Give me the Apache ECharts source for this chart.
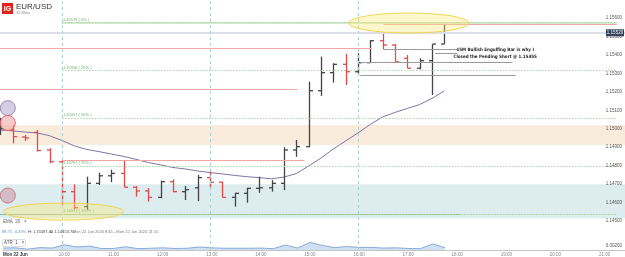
<!DOCTYPE html>
<html>
<head>
<meta charset="utf-8">
<script src="https://cdn.jsdelivr.net/npm/echarts@6/dist/echarts.min.js"></script>
<style>
  html, body { margin: 0; padding: 0; background: #fff; }
  #main { width: 625px; height: 257px; }
</style>
</head>
<body>
<div id="main"></div>
<script>
// EUR/USD 15 min bars, Mon 22 Jun
var barTimes = ['08:45','09:00','09:15','09:30','09:45','10:00','10:15','10:30','10:45','11:00',
  '11:15','11:30','11:45','12:00','12:15','12:30','12:45','13:00','13:15','13:30',
  '13:45','14:00','14:15','14:30','14:45','15:00','15:15','15:30','15:45','16:00',
  '16:15','16:30','16:45','17:00','17:15','17:30','17:45'];
var opens  = [1.14975,1.14993,1.14955,1.14980,1.14885,1.14821,1.14659,1.14578,1.14704,1.14745,
  1.14758,1.14683,1.14663,1.14628,1.14713,1.14659,1.14680,1.14735,1.14710,1.14628,
  1.14650,1.14677,1.14680,1.14704,1.14885,1.14903,1.15206,1.15304,1.15349,1.15309,
  1.15358,1.15477,1.15454,1.15382,1.15328,1.15369,1.15459];
var highs  = [1.15060,1.15020,1.14966,1.14993,1.14894,1.14830,1.14699,1.14740,1.14762,1.14778,
  1.14825,1.14690,1.14679,1.14719,1.14726,1.14690,1.14749,1.14776,1.14713,1.14653,
  1.14680,1.14740,1.14722,1.14900,1.14939,1.15255,1.15391,1.15355,1.15405,1.15409,
  1.15481,1.15521,1.15459,1.15400,1.15382,1.15459,1.15576];
var lows   = [1.14966,1.14921,1.14934,1.14876,1.14813,1.14587,1.14565,1.14560,1.14695,1.14710,
  1.14683,1.14632,1.14605,1.14623,1.14656,1.14614,1.14608,1.14677,1.14628,1.14578,
  1.14599,1.14653,1.14659,1.14668,1.14848,1.14900,1.15178,1.15250,1.15237,1.15291,
  1.15358,1.15431,1.15363,1.15328,1.15322,1.15183,1.15459];
var closes = [1.15000,1.14957,1.14950,1.14882,1.14821,1.14659,1.14572,1.14704,1.14745,1.14758,
  1.14683,1.14663,1.14628,1.14713,1.14659,1.14670,1.14735,1.14710,1.14628,1.14650,
  1.14677,1.14680,1.14704,1.14885,1.14903,1.15206,1.15304,1.15349,1.15309,1.15358,
  1.15477,1.15454,1.15363,1.15328,1.15369,1.15459,1.15520];
var ema20  = [1.14993,1.14988,1.14982,1.14977,1.14962,1.14936,1.14907,1.14888,1.14876,1.14863,
  1.14850,1.14834,1.14817,1.14804,1.14790,1.14782,1.14771,1.14763,1.14755,1.14747,
  1.14740,1.14735,1.14729,1.14738,1.14757,1.14798,1.14841,1.14890,1.14934,1.14977,
  1.15023,1.15064,1.15088,1.15110,1.15131,1.15164,1.15205];
var atr1   = [0.0009,0.0010,0.0004,0.0011,0.0009,0.0024,0.0014,0.0018,0.0007,0.0007,
  0.0015,0.0006,0.0008,0.0010,0.0007,0.0008,0.0014,0.0010,0.0008,0.0008,
  0.0008,0.0009,0.0006,0.0023,0.0009,0.0035,0.0021,0.0011,0.0016,0.0012,
  0.0012,0.0009,0.0010,0.0007,0.0006,0.0028,0.0011];

var priceTicks = [1.145,1.146,1.147,1.148,1.149,1.150,1.151,1.152,1.153,1.154,1.155,1.156];
var timeTicks = ['09:00','10:00','11:00','12:00','13:00','14:00','15:00','16:00','17:00','18:00','19:00','20:00','21:00'];
var dayLabel = 'Mon 22 Jun';
var lastPrice = 1.15520;

var fibLevels = [1.15576, 1.15316, 1.15057, 1.14797, 1.14537];
var fibLabels = ['1.15576 ( 0% )','1.15316 ( 25% )','1.15057 ( 50% )','1.14797 ( 75% )','1.14537 ( 100% )'];
var orangeZone = [1.14912, 1.15020];
var blueZone = [1.14515, 1.14699];
// [price, from, to]
var redLines = [[1.15436,'start','16:17'],[1.15214,'start','14:47'],[1.14831,'10:00','14:55'],[1.15566,'16:31','21:15']];
var grayLines = [[1.15431,'16:31','18:02'],[1.15410,'17:34','18:01'],[1.15359,'16:03','19:08'],[1.15290,'16:03','19:12']];
var sessionLines = ['10:00','13:00','16:00'];

var X_MIN = 524.5, X_MAX = 1285;
function toMin(s) { if (s === 'start') return X_MIN; var p = s.split(':'); return +p[0] * 60 + +p[1]; }

var ohlc = barTimes.map(function (t, i) { return [toMin(t), opens[i], highs[i], lows[i], closes[i]]; });
var emaData = barTimes.map(function (t, i) { return [toMin(t), ema20[i]]; });
var atrData = barTimes.map(function (t, i) { return [toMin(t), atr1[i]]; });

var upColor = '#444', downColor = '#e24a4a';
var FONT = "'Liberation Sans', Arial, sans-serif";

function seg(price, t1, t2, color, width, type) {
  var ls = { color: color, width: width, type: type || 'solid', opacity: 1 };
  return [{ coord: [toMin(t1), price], lineStyle: ls }, { coord: [toMin(t2), price], lineStyle: ls }];
}

var lineItems = [];
redLines.forEach(function (r) { lineItems.push(seg(r[0], r[1], r[2], '#f2a6a6', 1)); });
grayLines.forEach(function (r) { lineItems.push(seg(r[0], r[1], r[2], '#9a9a9a', 1)); });

var fibItems = [];
fibItems.push(seg(fibLevels[0], '10:00', '21:15', '#d3ead0', 2));
fibItems.push(seg(fibLevels[4], 'start', '18:05', '#8cc09a', 1));
fibItems.push(seg(fibLevels[4], '18:05', '21:15', '#cfe6d4', 1));
fibLevels.forEach(function (p, i) {
  var s = seg(p, '10:00', '21:15', '#a9d8a4', 1, [1.5, 1.5]);
  s[0].label = { show: true, formatter: fibLabels[i] };
  fibItems.push(s);
});

function renderOhlc(params, api) {
  var x = api.value(0), o = api.value(1), h = api.value(2), l = api.value(3), c = api.value(4);
  var top = api.coord([x, h]), bot = api.coord([x, l]);
  var po = api.coord([x, o]), pc = api.coord([x, c]);
  var color = c >= o ? upColor : downColor;
  var cx = Math.round(top[0]) + 0.5, tick = 3.5;
  var st = { stroke: color, lineWidth: 1.3 };
  return { type: 'group', children: [
    { type: 'line', shape: { x1: cx, y1: top[1], x2: cx, y2: bot[1] }, style: st },
    { type: 'line', shape: { x1: cx - tick, y1: po[1], x2: cx, y2: po[1] }, style: st },
    { type: 'line', shape: { x1: cx, y1: pc[1], x2: cx + tick, y2: pc[1] }, style: st }
  ] };
}

var chart = echarts.init(document.getElementById('main'));

var option = {
  animation: false,
  backgroundColor: '#fff',
  textStyle: { fontFamily: FONT },
  grid: [
    { left: 0, right: 0, top: 0, height: 250 },
    { left: 0, right: 0, top: 237, height: 13 }
  ],
  xAxis: [
    { type: 'value', gridIndex: 0, min: X_MIN, max: X_MAX, show: false },
    { type: 'value', gridIndex: 1, min: X_MIN, max: X_MAX,
      axisLine: { show: false }, axisTick: { show: false }, splitLine: { show: false },
      axisLabel: {
        customValues: timeTicks.map(toMin), margin: 2, fontSize: 4.5, color: '#888',
        formatter: function (v) {
          if (v === toMin(timeTicks[0])) return '{d|' + dayLabel + '}';
          var h = Math.floor(v / 60);
          return (h < 10 ? '0' : '') + h + ':00';
        },
        rich: { d: { fontSize: 4.5, fontWeight: 'bold', color: '#333' } }
      } }
  ],
  yAxis: [
    { type: 'value', gridIndex: 0, position: 'right', min: 1.143428, max: 1.156978, scale: true, z: 20,
      axisLine: { show: false }, axisTick: { show: false }, splitLine: { show: false },
      axisLabel: { inside: true, margin: 3, fontSize: 4.5, color: '#555',
        customValues: priceTicks, formatter: function (v) { return v.toFixed(5); } } },
    { type: 'value', gridIndex: 1, position: 'right', min: 0, max: 0.006, z: 20,
      axisLine: { show: false }, axisTick: { show: false }, splitLine: { show: false },
      axisLabel: { inside: true, margin: 3, fontSize: 4.5, color: '#555',
        customValues: [0.002], formatter: function (v) { return v.toFixed(5); } } }
  ],
  series: [
    {
      name: 'zones', type: 'line', xAxisIndex: 0, yAxisIndex: 0, data: [], silent: true, z: 1,
      markArea: { silent: true, data: [
        [{ yAxis: orangeZone[0], itemStyle: { color: '#faecdc' } }, { yAxis: orangeZone[1] }],
        [{ yAxis: blueZone[0], itemStyle: { color: '#dcecef' } }, { yAxis: blueZone[1] }]
      ] },
      markLine: { silent: true, symbol: ['none', 'none'], animation: false,
        label: { show: true, position: 'insideStartTop', fontSize: 4, color: '#6aae6a', distance: [1, 1] },
        data: fibItems }
    },
    {
      name: 'levels', type: 'line', xAxisIndex: 0, yAxisIndex: 0, data: [], silent: true, z: 2,
      markLine: { silent: true, symbol: ['none', 'none'], animation: false, label: { show: false },
        data: lineItems.concat([
          [{ coord: [X_MIN, lastPrice], lineStyle: { color: '#dcdee8', width: 2, type: 'solid' } },
           { coord: [X_MAX, lastPrice], lineStyle: { color: '#dcdee8', width: 2, type: 'solid' } }]
        ]).concat(sessionLines.map(function (t) {
          return { xAxis: toMin(t), lineStyle: { color: '#a8d2d4', width: 1, type: [3, 3] } };
        })) }
    },
    {
      name: 'EMA 20', type: 'line', xAxisIndex: 0, yAxisIndex: 0, data: emaData,
      showSymbol: false, lineStyle: { color: '#7f74aa', width: 1 }, z: 3
    },
    {
      name: 'EUR/USD', type: 'custom', xAxisIndex: 0, yAxisIndex: 0, data: ohlc,
      renderItem: renderOhlc, encode: { x: 0, y: [1, 2, 3, 4] }, clip: true, z: 4
    },
    {
      name: 'ATR 1', type: 'line', xAxisIndex: 1, yAxisIndex: 1, data: atrData,
      showSymbol: false, lineStyle: { color: '#88acd8', width: 1 },
      areaStyle: { color: 'rgba(160,190,228,0.7)' },
      markLine: { silent: true, symbol: ['none', 'none'], label: { show: false },
        lineStyle: { color: '#c4c4c4', width: 1, type: 'solid' },
        data: [{ yAxis: 0.0055 }, { yAxis: 0.0040 }, { yAxis: 0.0025 }] }
    }
  ]
};
chart.setOption(option);

// annotations placed from chart coordinates
function toPx(t, p) { return chart.convertToPixel({ gridIndex: 0 }, [toMin(t), p]); }
var ellipseNotes = [['17:02', 1.15573, 60, 10], ['10:02', 1.14551, 60, 8.5]];
var circleNotes = [
  ['08:54', 1.15112, 'rgba(200,190,216,0.75)', '#9a8cbc'],
  ['08:54', 1.15031, 'rgba(242,168,168,0.6)', '#e06a6a'],
  ['08:54', 1.14638, 'rgba(206,164,172,0.65)', '#c97a86']
];
var noteText = ['15M Bullish Engulfing Bar is why I', 'Closed the Pending Short @ 1.15455'];
var noteAt = ['18:47', 1.15427];

var g = [];
ellipseNotes.forEach(function (e) {
  var c = toPx(e[0], e[1]);
  g.push({ type: 'ellipse', shape: { cx: c[0], cy: c[1], rx: e[2], ry: e[3] },
    style: { fill: 'rgba(255,232,110,0.35)', stroke: '#f0d458', lineWidth: 1 }, z: 10 });
});
circleNotes.forEach(function (e) {
  var c = toPx(e[0], e[1]);
  g.push({ type: 'circle', shape: { cx: c[0], cy: c[1], r: 7.5 },
    style: { fill: e[2], stroke: e[3], lineWidth: 1 }, z: 10 });
});
var nt = toPx(noteAt[0], noteAt[1]);
noteText.forEach(function (s, i) {
  g.push({ type: 'text', x: nt[0], y: nt[1] + i * 7, z: 11,
    style: { text: s, fill: '#222', font: "bold 4.5px 'Liberation Sans Narrow','DejaVu Sans Condensed','Liberation Sans',sans-serif",
      align: 'center', verticalAlign: 'middle' } });
});
var lp = toPx('21:15', lastPrice);
g.push({ type: 'rect', shape: { x: 606, y: lp[1] - 3.5, width: 18, height: 7 }, style: { fill: '#2e3d5c' }, z: 12 });
g.push({ type: 'text', x: 615, y: lp[1], z: 13,
  style: { text: lastPrice.toFixed(5), fill: '#fff', font: '4.5px ' + FONT, align: 'center', verticalAlign: 'middle' } });

// header and legend rows
g.push({ type: 'rect', shape: { x: 2, y: 3, width: 11, height: 11 }, style: { fill: '#e2231a' }, z: 12 });
g.push({ type: 'text', x: 7.5, y: 8.7, z: 13, style: { text: 'IG', fill: '#fff', font: 'bold 7px ' + FONT, align: 'center', verticalAlign: 'middle' } });
g.push({ type: 'text', x: 16, y: 7, z: 13, style: { text: 'EUR/USD', fill: '#333', font: '8px ' + FONT, verticalAlign: 'middle' } });
g.push({ type: 'text', x: 16, y: 13, z: 13, style: { text: '15 Mins', fill: '#888', font: '4px ' + FONT, verticalAlign: 'middle' } });
g.push({ type: 'text', x: 3, y: 222, z: 13, style: { text: 'EMA  20   \u00d7', fill: '#666', font: '4.5px ' + FONT, verticalAlign: 'middle' } });
var row = [['88.75', 2, '#5a8fd0'], ['0.49%', 15, '#5a8fd0'], ['H: 1.15587.00', 28, '#444'], ['L: 1.14453.70', 50, '#444'],
  ['Mon 22 Jun 2020 8:45 - Mon 22 Jun 2020 21:15', 73, '#777']];
row.forEach(function (r) {
  g.push({ type: 'text', x: r[1], y: 232, z: 13, style: { text: r[0], fill: r[2], font: '4px ' + FONT, verticalAlign: 'middle' } });
});
g.push({ type: 'text', x: 3, y: 243, z: 13, style: { text: 'ATR  1   \u00d7', fill: '#555', font: '4.5px ' + FONT, verticalAlign: 'middle',
  backgroundColor: '#fff', borderColor: '#bbb', borderWidth: 0.5, padding: [0.5, 1] } });

chart.setOption({ graphic: { elements: g } });
</script>
</body>
</html>
